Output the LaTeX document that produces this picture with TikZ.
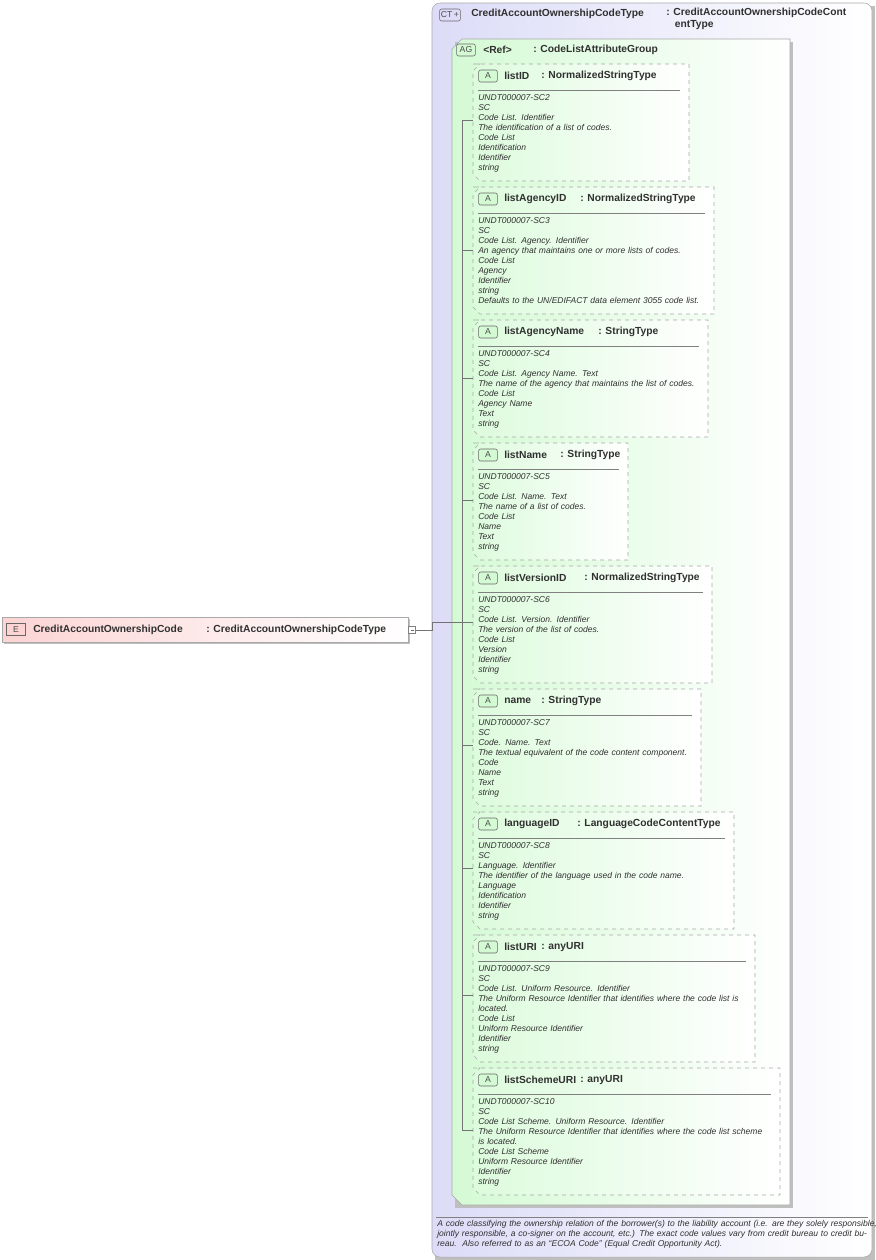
\documentclass[tikz,border=0pt]{standalone}
\usepackage{fontspec}
\setmainfont{Liberation Sans}
\usetikzlibrary{calc}
\definecolor{ctfill}{HTML}{DCDCF8}
\definecolor{agfill}{HTML}{D4FAD4}
\definecolor{efill}{HTML}{FCD4D4}
\definecolor{bord}{HTML}{A8A8A8}
\definecolor{txt}{HTML}{303030}
\tikzset{
  px/.style={x=0.75pt,y=-0.75pt},
  ctbox/.style={draw=bord,rounded corners=6pt,left color=ctfill,right color=white},
  agbox/.style={draw=bord,left color=agfill,right color=white},
  attbox/.style={draw=bord,dashed,left color=agfill!80,right color=white},
  badge/.style={draw=black!60,fill=agfill!60!black!15,rounded corners=1.5pt,font=\fontsize{6.5}{7}\selectfont,inner sep=1pt,minimum width=14pt,minimum height=9pt,text=black!70},
  ttl/.style={font=\bfseries\fontsize{7.7}{9}\selectfont,text=txt,anchor=west,inner sep=0pt},
  body/.style={font=\itshape\fontsize{6.4}{7.5}\selectfont,text=txt,anchor=north west,align=left,inner sep=0pt},
  conn/.style={draw=black!55,line width=0.5pt}
}
\newcommand\attr[9]{%
  \path[attbox] (473,#2) -- (#3,#2) -- (#3,#4) -- (480,#4) -- (473,{#4-7}) -- (473,{#2+7}) -- (480,#2) -- cycle;
  \coordinate (#1) at (473,{(#2+#4)/2});
  \node[badge,fill=agfill] (#1b) at (488,{#2+12}) {A};
  \node[ttl] (#1n) at (504,{#2+12}) {#5};
  \node[ttl] (#1t) at (#6,{#2+12}) {: #7};
  \draw[black!50] (478,{#2+26}) -- ({#3-9},{#2+26});
  \node[body,text width=#8pt] (#1d) at (478,{#2+30}) {#9};
}
\begin{document}
\begin{tikzpicture}[px]
\useasboundingbox (0,0) rectangle (875,1260);
% CT box
\fill[black!25] (435,6) rectangle (875,1260);
\path[ctbox] (432,3) rectangle (872,1257);
\node[badge,fill=ctfill] (ctb) at (450,15) {CT\,+};
\node[ttl] (ctn) at (471,14) {CreditAccountOwnershipCodeType};
\node[ttl,anchor=north west,align=left] (ctt) at (666,8) {: CreditAccountOwnershipCodeCont\\\hspace{6.5pt}entType};
% AG box
\fill[black!25] (455,42) rectangle (793,1208);
\path[agbox] (462,39) -- (790,39) -- (790,1205) -- (462,1205) -- (452,1195) -- (452,49) -- cycle;
\node[badge,fill=agfill] (agb) at (466,50) {AG};
\node[ttl] (agn) at (483,50) {<Ref>};
\node[ttl] (agt) at (533,50) {: CodeListAttributeGroup};
% attributes
\attr{a1}{64}{689}{181}{listID}{541}{NormalizedStringType}{150}{UNDT000007-SC2\\SC\\Code List. Identifier\\The identification of a list of codes.\\Code List\\Identification\\Identifier\\string}
\attr{a2}{187}{714}{314}{listAgencyID}{580}{NormalizedStringType}{180}{UNDT000007-SC3\\SC\\Code List. Agency. Identifier\\An agency that maintains one or more lists of codes.\\Code List\\Agency\\Identifier\\string\\Defaults to the UN/EDIFACT data element 3055 code list.}
\attr{a3}{320}{708}{437}{listAgencyName}{598}{StringType}{176}{UNDT000007-SC4\\SC\\Code List. Agency Name. Text\\The name of the agency that maintains the list of codes.\\Code List\\Agency Name\\Text\\string}
\attr{a4}{443}{628}{560}{listName}{560}{StringType}{110}{UNDT000007-SC5\\SC\\Code List. Name. Text\\The name of a list of codes.\\Code List\\Name\\Text\\string}
\attr{a5}{566}{712}{683}{listVersionID}{584}{NormalizedStringType}{176}{UNDT000007-SC6\\SC\\Code List. Version. Identifier\\The version of the list of codes.\\Code List\\Version\\Identifier\\string}
\attr{a6}{689}{701}{806}{name}{541}{StringType}{168}{UNDT000007-SC7\\SC\\Code. Name. Text\\The textual equivalent of the code content component.\\Code\\Name\\Text\\string}
\attr{a7}{812}{734}{929}{languageID}{577}{LanguageCodeContentType}{190}{UNDT000007-SC8\\SC\\Language. Identifier\\The identifier of the language used in the code name.\\Language\\Identification\\Identifier\\string}
\attr{a8}{935}{755}{1062}{listURI}{541}{anyURI}{210}{UNDT000007-SC9\\SC\\Code List. Uniform Resource. Identifier\\The Uniform Resource Identifier that identifies where the code list is\\located.\\Code List\\Uniform Resource Identifier\\Identifier\\string}
\attr{a9}{1068}{780}{1195}{listSchemeURI}{580}{anyURI}{228}{UNDT000007-SC10\\SC\\Code List Scheme. Uniform Resource. Identifier\\The Uniform Resource Identifier that identifies where the code list scheme\\is located.\\Code List Scheme\\Uniform Resource Identifier\\Identifier\\string}
% connectors
\coordinate (bus) at (462,622);
\draw[conn] (462,120) -- (462,1130);
\foreach \a/\y in {a1/120,a2/250,a3/378,a4/500,a5/622,a6/745,a7/868,a8/995,a9/1130}{
  \draw[conn] (462,\y) -- (\a |- 0,\y);
}
% description
\draw[black!50] (436,1217) -- (868,1217);
\node[body,text width=330pt] (desc) at (437,1220) {A code classifying the ownership relation of the borrower(s) to the liability account (i.e. are they solely responsible, jointly responsible, a co-signer on the account, etc.) The exact code values vary from credit bureau to credit bureau.\ \ Also referred to as an ``ECOA Code'' (Equal Credit Opportunity Act).};
% element
\fill[black!25] (4,619) rectangle (410,644);
\path[draw=bord,left color=efill,right color=white] (2,617) rectangle (408,642);
\node[badge,fill=efill,rounded corners=0pt] (eb) at (16,629.5) {E};
\node[ttl] (en) at (33,629.5) {CreditAccountOwnershipCode};
\node[ttl] (et) at (206,629.5) {: CreditAccountOwnershipCodeType};
\node[draw=black!50,fill=white,minimum size=5pt,inner sep=0pt] (sq) at (412,630) {};
\draw[black!60,line width=0.3pt] (410.5,630) -- (413.5,630);
\draw[conn] (sq.east) -- (432,630) -- (432,622) -- (bus);
\end{tikzpicture}
\end{document}
